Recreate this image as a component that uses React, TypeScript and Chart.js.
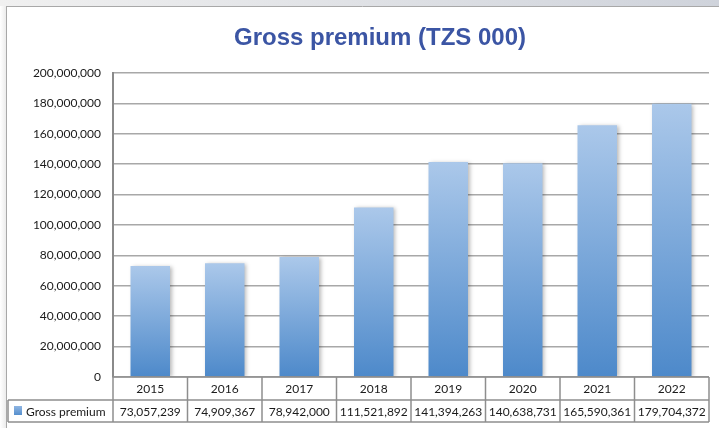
import { useEffect, useRef } from "react";
import { Chart, registerables } from "chart.js";
Chart.register(...registerables);

const chartTitle = "Gross premium (TZS 000)";
const seriesLabel = "Gross premium";
const years = ["2015", "2016", "2017", "2018", "2019", "2020", "2021", "2022"];
const grossPremium = [73057239, 74909367, 78942000, 111521892, 141394263, 140638731, 165590361, 179704372];
const yMin = 0;
const yMax = 200000000;
const yStep = 20000000;

const fmt = (n: number) => n.toLocaleString("en-US");
const FONT = "Lato, 'Open Sans', sans-serif";

const framePlugin = {
  id: "frameTable",
  beforeDraw(chart: any) {
    const ctx = chart.ctx;
    const W = chart.width;
    const H = chart.height;
    ctx.save();
    ctx.fillStyle = "#ffffff";
    ctx.fillRect(0, 0, W, H);
    const g = ctx.createLinearGradient(0, 0, W, 0);
    g.addColorStop(0, "#f0f0f0");
    g.addColorStop(1, "#cfd3db");
    ctx.fillStyle = g;
    ctx.fillRect(0, 0, W, 6);
    const gl = ctx.createLinearGradient(0, 0, 6, 0);
    gl.addColorStop(0, "#ffffff");
    gl.addColorStop(1, "#ececec");
    ctx.fillStyle = gl;
    ctx.fillRect(0, 6, 6, H - 6);
    ctx.strokeStyle = "#a8a8a8";
    ctx.lineWidth = 1;
    ctx.beginPath();
    ctx.moveTo(6, 6.5);
    ctx.lineTo(W, 6.5);
    ctx.moveTo(6.5, 6);
    ctx.lineTo(6.5, H);
    ctx.stroke();
    ctx.restore();
  },
  beforeDatasetsDraw(chart: any) {
    const ctx = chart.ctx;
    ctx.save();
    ctx.shadowColor = "rgba(0,0,0,0.28)";
    ctx.shadowBlur = 4;
    ctx.shadowOffsetX = 2;
    ctx.shadowOffsetY = 1;
  },
  afterDatasetsDraw(chart: any) {
    chart.ctx.restore();
  },
  afterDraw(chart: any) {
    const ctx = chart.ctx;
    const area = chart.chartArea;
    const n = years.length;
    const colW = (area.right - area.left) / n;
    const top = area.bottom;
    const mid = top + 23;
    const bot = top + 45;
    const legL = 8;
    ctx.save();
    // title
    ctx.fillStyle = "#3b55a4";
    ctx.font = "bold 24px 'Liberation Sans', Arial, sans-serif";
    ctx.textAlign = "center";
    ctx.textBaseline = "middle";
    ctx.fillText(chartTitle, 380, 38);
    // table lines
    ctx.strokeStyle = "#8e8e8e";
    ctx.lineWidth = 1.5;
    ctx.beginPath();
    ctx.moveTo(area.left, top);
    ctx.lineTo(area.right, top);
    ctx.moveTo(legL, mid);
    ctx.lineTo(area.right, mid);
    ctx.moveTo(legL, bot);
    ctx.lineTo(area.right, bot);
    ctx.moveTo(legL, mid);
    ctx.lineTo(legL, bot);
    for (let i = 0; i <= n; i++) {
      const x = area.left + i * colW;
      ctx.moveTo(x, top);
      ctx.lineTo(x, bot);
    }
    ctx.stroke();
    // texts
    ctx.fillStyle = "#1a1a1a";
    ctx.font = "12px " + FONT;
    ctx.textAlign = "center";
    ctx.textBaseline = "middle";
    for (let i = 0; i < n; i++) {
      const cx = area.left + (i + 0.5) * colW;
      ctx.fillText(years[i], cx, (top + mid) / 2 + 1);
      ctx.fillText(fmt(grossPremium[i]), cx, (mid + bot) / 2 + 1);
    }
    // legend key
    const lg = ctx.createLinearGradient(0, mid + 6, 0, mid + 16);
    lg.addColorStop(0, "#8fb5e2");
    lg.addColorStop(1, "#4f8bcb");
    ctx.fillStyle = lg;
    ctx.fillRect(14, mid + 6, 8, 9);
    ctx.fillStyle = "#1a1a1a";
    ctx.textAlign = "left";
    ctx.fillText(seriesLabel, 26, (mid + bot) / 2 + 1);
    ctx.restore();
  },
};

export default function App() {
  const ref = useRef<HTMLCanvasElement | null>(null);
  useEffect(() => {
    if (!ref.current) return;
    const chart = new Chart(ref.current, {
      type: "bar",
      data: {
        labels: years,
        datasets: [
          {
            label: seriesLabel,
            data: grossPremium,
            backgroundColor: (c: any) => {
              const ch = c.chart;
              const ys = ch.scales && ch.scales.y;
              if (!ys || c.dataIndex === undefined || c.type !== "data") return "#6d9fd6";
              const v = grossPremium[c.dataIndex];
              const yt = ys.getPixelForValue(v);
              const yb = ys.getPixelForValue(0);
              if (!isFinite(yt) || !isFinite(yb) || yt === yb) return "#6d9fd6";
              const g = ch.ctx.createLinearGradient(0, yt, 0, yb);
              g.addColorStop(0, "#abc8ea");
              g.addColorStop(1, "#4d89ca");
              return g;
            },
            borderWidth: 0,
            categoryPercentage: 1,
            barPercentage: 0.53,
          },
        ],
      },
      options: {
        responsive: false,
        animation: false,
        devicePixelRatio: 1,
        layout: { padding: { top: 73, right: 10, bottom: 51, left: 0 } },
        plugins: {
          legend: { display: false },
          title: { display: false },
          tooltip: { enabled: false },
        },
        scales: {
          x: { display: false },
          y: {
            min: yMin,
            max: yMax,
            ticks: {
              stepSize: yStep,
              padding: 12,
              color: "#1a1a1a",
              font: { family: FONT, size: 12 },
              callback: (v: any) => fmt(Number(v)),
            },
            grid: { color: "#a8a8a8", lineWidth: 1.5, drawTicks: false },
            border: { display: true, color: "#8a8a8a", width: 2 },
            afterFit: (s: any) => {
              s.width = 113;
            },
          },
        },
      },
      plugins: [framePlugin],
    });
    return () => chart.destroy();
  }, []);
  return (
    <div style={{ position: "fixed", left: 0, top: 0, width: 719, height: 428, background: "#fff" }}>
      <canvas ref={ref} width={719} height={428} style={{ display: "block" }} />
    </div>
  );
}
